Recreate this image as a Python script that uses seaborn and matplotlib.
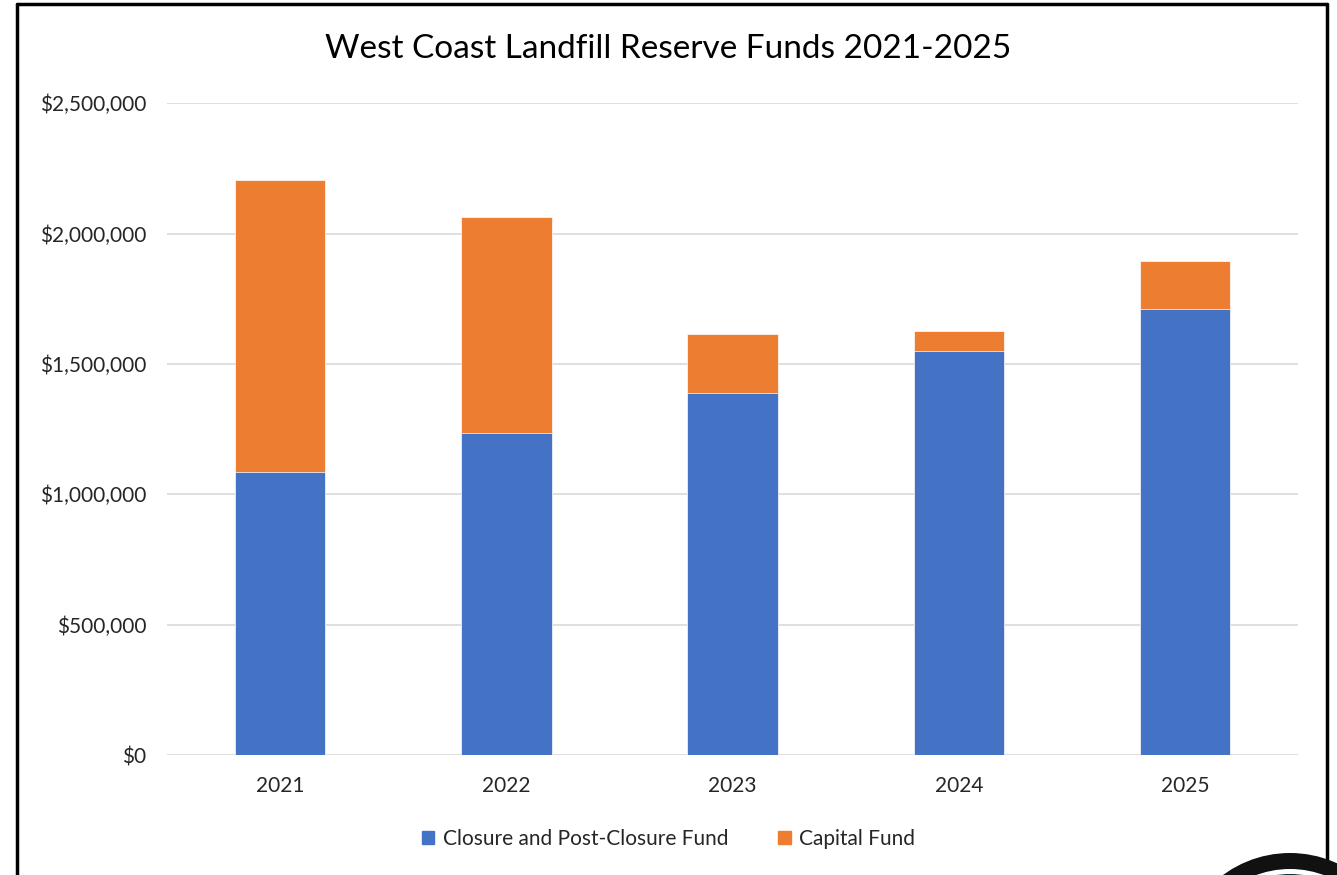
import matplotlib
matplotlib.use("Agg")
import matplotlib.pyplot as plt
import matplotlib.patches as mpatches
from matplotlib.lines import Line2D
from matplotlib.ticker import FuncFormatter
import pandas as pd
import seaborn as sns

# 数据
years = ["2021", "2022", "2023", "2024", "2025"]
closure_fund = [1085000, 1235000, 1388000, 1549000, 1710000]
capital_fund = [1120000, 828000, 226000, 77000, 184000]

blue = "#4472C4"
orange = "#ED7D31"

sns.set_theme(style="whitegrid")
plt.rcParams["font.family"] = ["Lato", "DejaVu Sans"]

df = pd.DataFrame({"year": years, "closure": closure_fund, "capital": capital_fund})
df["total"] = df["closure"] + df["capital"]

fig = plt.figure(figsize=(13.37, 8.75), dpi=100)
ax = fig.add_axes([0.125, 0.137, 0.846, 0.745])

# 堆叠柱状图：先画总额（橙色），再画底部（蓝色）
sns.barplot(data=df, x="year", y="total", color=orange, saturation=1, width=0.4,
            edgecolor="white", linewidth=0.5, ax=ax, zorder=2)
sns.barplot(data=df, x="year", y="closure", color=blue, saturation=1, width=0.4,
            edgecolor="white", linewidth=0.5, ax=ax, zorder=3)

ax.set_ylim(0, 2500000)
ax.set_xlim(-0.5, 4.5)
ax.set_yticks([0, 500000, 1000000, 1500000, 2000000, 2500000])
ax.yaxis.set_major_formatter(FuncFormatter(lambda v, p: f"${v:,.0f}"))
ax.grid(axis="y", color="#d9d9d9", linewidth=1.2)
ax.grid(axis="x", visible=False)
for s in ax.spines.values():
    s.set_visible(False)
ax.set_axisbelow(True)
ax.set_xlabel("")
ax.set_ylabel("")
ax.tick_params(axis="both", labelsize=15, colors="#262626", length=0)
ax.tick_params(axis="x", pad=15)
ax.tick_params(axis="y", pad=15)

fig.text(0.5, 0.944, "West Coast Landfill Reserve Funds 2021-2025", ha="center", va="center",
         fontsize=24, color="#000000")

handles = [mpatches.Patch(color=blue, label="Closure and Post-Closure Fund"),
           mpatches.Patch(color=orange, label="Capital Fund")]
fig.legend(handles=handles, loc="center", bbox_to_anchor=(0.5, 0.041), ncol=2, frameon=False,
           fontsize=15, handlelength=0.6, handleheight=0.6, columnspacing=2.4, handletextpad=0.4)

# 外框
fig.add_artist(Line2D([17 / 1337, 17 / 1337], [0, 1 - 4 / 875], color="black", lw=2.5))
fig.add_artist(Line2D([17 / 1337, 1327 / 1337], [1 - 4 / 875, 1 - 4 / 875], color="black", lw=2.5))
fig.add_artist(Line2D([1327 / 1337, 1327 / 1337], [1 - 4 / 875, 1 - 863 / 875], color="black", lw=2.5))

# 右下角标志（部分可见）
logo_ax = fig.add_axes([0, 0, 1, 1], zorder=5)
logo_ax.set_xlim(0, 1337)
logo_ax.set_ylim(875, 0)
logo_ax.axis("off")
logo_ax.add_patch(mpatches.Circle((1290, 966), 113, facecolor="#111111", edgecolor="none"))
logo_ax.add_patch(mpatches.Circle((1290, 966), 97, facecolor="#ffffff", edgecolor="none"))
logo_ax.add_patch(mpatches.Circle((1290, 966), 92, facecolor="#0f2f3a", edgecolor="none"))

fig.savefig("out.png", dpi=100)
